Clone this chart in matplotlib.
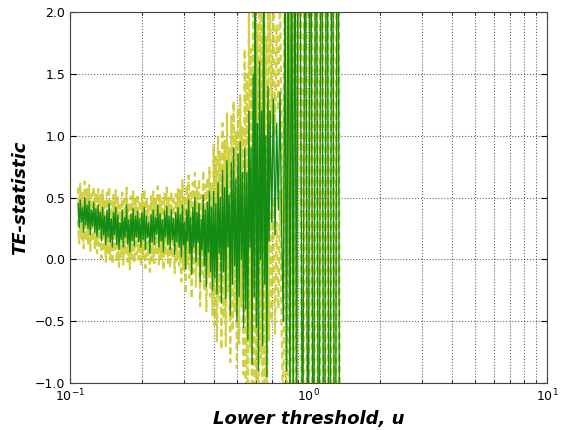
import numpy as np
import matplotlib
matplotlib.use("Agg")
import matplotlib.pyplot as plt
from matplotlib.ticker import LogLocator, NullFormatter

# TE-statistic, point by point (left to right)
te = [
    # u ~ 0.11 - 0.13
    0.45, 0.26, 0.48, 0.30, 0.42, 0.22, 0.50, 0.28, 0.44, 0.25,
    0.47, 0.20, 0.40, 0.27, 0.46, 0.22, 0.41, 0.18, 0.44, 0.24,
    # u ~ 0.13 - 0.20
    0.38, 0.15, 0.42, 0.20, 0.35, 0.12, 0.40, 0.18, 0.45, 0.14, 0.33, 0.10,
    0.38, 0.20, 0.42, 0.12, 0.36, 0.08, 0.30, 0.16, 0.40, 0.10, 0.34, 0.18,
    0.44, 0.12, 0.32, 0.06, 0.37, 0.15, 0.41, 0.11, 0.35, 0.18, 0.39, 0.14,
    # u ~ 0.20 - 0.29
    0.33, 0.10, 0.38, 0.16, 0.42, 0.08, 0.35, 0.18, 0.30, 0.05, 0.36, 0.14,
    0.40, 0.12, 0.34, 0.20, 0.44, 0.10, 0.37, 0.15, 0.32, 0.06, 0.39, 0.18,
    0.43, 0.12, 0.35, 0.08, 0.40, 0.16, 0.33, 0.04, 0.38, 0.14, 0.42, 0.10,
    # u ~ 0.29 - 0.40
    0.36, 0.02, 0.44, 0.12, 0.30, -0.08, 0.40, 0.15, 0.48, 0.05, 0.34, -0.12,
    0.42, 0.10, 0.50, -0.02, 0.38, 0.14, 0.45, -0.18, 0.32, 0.08, 0.52, -0.05,
    0.40, -0.22, 0.46, 0.06, 0.55, -0.10, 0.42, -0.25,
    # u ~ 0.40 - 0.54
    0.55, -0.15, 0.45, -0.28, 0.62, 0.05, 0.50, -0.35, 0.72, -0.10, 0.58, -0.32,
    0.80, 0.10, 0.52, -0.45, 0.78, -0.20, 0.90, -0.05, 0.65, -0.50, 0.85, -0.30,
    0.95, 0.00, 0.70, -0.55,
    # u ~ 0.54 - 0.69
    0.90, -0.40, 0.70, -0.65, 1.20, 0.10, 0.90, -0.85, 1.50, -0.30, 2.30, -0.55,
    1.10, -0.90, 1.60, 0.00, 1.20, -0.70, 2.40, -0.20, 1.00, -0.95, 1.40, 0.15,
    # u ~ 0.69 - 0.92
    1.20, 0.30, 1.30, 0.20, 1.10, 0.40, 1.35, 0.25,
    -0.50, 2.20, -0.90, 2.80, -1.30, 3.00, -1.20, 3.20, -1.50, 3.40,
    # u ~ 0.92 - 1.36
    3.0, -2.0, 3.5, -2.5, 4.0, -3.0, 4.5, -3.5,
    5.0, -4.0, 5.0, -4.5, 5.2, -4.6, 5.5, -5.0,
]

# half-width of the dashed confidence band, one value per segment above
ci_seg = [0.13, 0.14, 0.15, 0.20, 0.38, 0.80, 0.80, 1.20]
seg_len = [20, 36, 36, 32, 28, 24, 18, 16]
# threshold values where the segments start / end
u_edges = [0.108, 0.134, 0.196, 0.29, 0.40, 0.54, 0.69, 0.92, 1.36]

te = np.array(te)
u = np.concatenate([
    np.geomspace(u_edges[i], u_edges[i + 1], n, endpoint=(i == len(seg_len) - 1))
    for i, n in enumerate(seg_len)
])
ci = np.repeat(ci_seg, seg_len)
upper = te + ci
lower = te - ci

fig = plt.figure(figsize=(5.65, 4.3), dpi=100)
ax = fig.add_axes([0.124, 0.109, 0.844, 0.863])

ax.plot(u, upper, color='#c8c81e', linestyle='--', dashes=(3, 2), linewidth=1.6, alpha=0.85)
ax.plot(u, lower, color='#c8c81e', linestyle='--', dashes=(3, 2), linewidth=1.6, alpha=0.85)
ax.plot(u, te, color='#148c14', linewidth=1.0)

ax.set_xscale('log')
ax.set_xlim(0.1, 10)
ax.set_ylim(-1.0, 2.0)
ax.set_yticks([-1.0, -0.5, 0.0, 0.5, 1.0, 1.5, 2.0])
ax.xaxis.set_minor_locator(LogLocator(base=10, subs=np.arange(2, 10)))
ax.xaxis.set_minor_formatter(NullFormatter())

ax.grid(True, which='major', color='k', linestyle=':', linewidth=0.8, alpha=0.6)
ax.grid(True, which='minor', axis='x', color='k', linestyle=':', linewidth=0.8, alpha=0.6)

ax.tick_params(which='both', direction='in', top=True, right=True, labelsize=9)
ax.tick_params(which='major', length=4)
ax.tick_params(which='minor', length=2)
for s in ax.spines.values():
    s.set_color('#444444')

ax.set_xlabel('Lower threshold, u', fontsize=13, fontweight='bold', fontstyle='italic')
ax.set_ylabel('TE-statistic', fontsize=13, fontweight='bold', fontstyle='italic')

fig.savefig('out.png', dpi=100)
